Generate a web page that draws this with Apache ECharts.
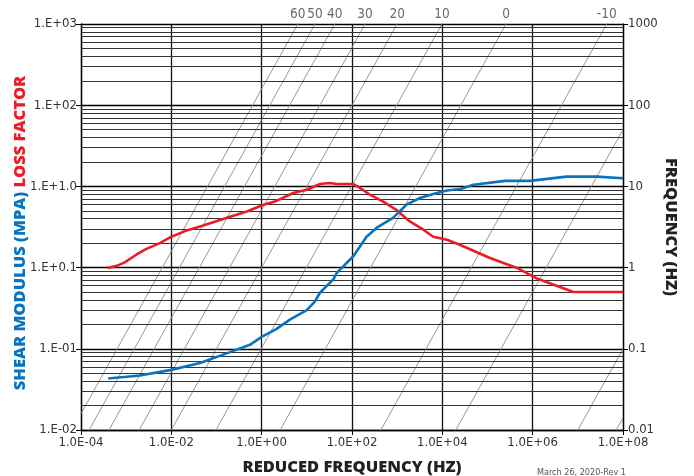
<!DOCTYPE html>
<html>
<head>
<meta charset="utf-8">
<script src="https://cdn.jsdelivr.net/npm/echarts@6/dist/echarts.min.js"></script>
<style>
html,body{margin:0;padding:0;background:#fff;}
#c{width:694px;height:476px;}
</style>
</head>
<body>
<div id="c"></div>
<script>
// ---- data ----
const xTickLabels = ['1.0E-04','1.0E-02','1.0E+00','1.0E+02','1.0E+04','1.0E+06','1.0E+08'];
const leftTickLabels = ['1.E-02','1.E-01','1.E+0.1','1.E+1.0','1.E+02','1.E+03'];
const rightTickLabels = ['0.01','0.1','1','10','100','1000'];

// isotherms: temperature (°C) and log10 shift factor
const isoTemps = [60, 50, 40, 30, 20, 10, 0, -10, -20, -30, -40];
const isoLogShift = [-2.2, -1.82, -1.38, -0.71, 0, 0.99, 2.41, 4.64, 6.3, 9.0, 9.85];
const labeledTemps = [60, 50, 40, 30, 20, 10, 0, -10];

// loss factor (red)
const lossFreq = [3.9e-4, 6.2e-4, 9.3e-4, 1.7e-3, 2.8e-3, 5.6e-3, 1.0e-2, 2.2e-2, 5.1e-2, 0.17, 0.47, 1.1, 1.95, 5.0, 10, 19.5, 32, 46, 107, 150, 250, 490, 980, 1900, 3800, 6300, 1.26e4, 2.5e4, 1.1e5, 4.5e5, 1.2e6, 8e6, 1e8];
const lossValue = [0.99, 1.05, 1.16, 1.45, 1.7, 2.0, 2.4, 2.87, 3.3, 4.1, 4.9, 5.95, 6.5, 8.3, 9.1, 10.7, 11.0, 10.7, 10.7, 9.6, 7.9, 6.5, 5.1, 3.7, 2.93, 2.4, 2.2, 1.9, 1.32, 0.99, 0.74, 0.50, 0.50];

// shear modulus (blue)
const modFreq = [4.0e-4, 2.0e-3, 1.0e-2, 4.3e-2, 0.2, 0.55, 1.02, 2.1, 4.3, 10, 15, 19.5, 39, 46, 107, 210, 355, 810, 1600, 3200, 6300, 1.26e4, 2.5e4, 4.9e4, 2.45e5, 8.7e5, 5.6e6, 2.6e7, 1e8];
const modValue = [0.043, 0.047, 0.055, 0.067, 0.091, 0.112, 0.141, 0.175, 0.23, 0.30, 0.38, 0.49, 0.72, 0.86, 1.38, 2.4, 3.1, 4.1, 5.95, 7.2, 8.05, 8.9, 9.3, 10.5, 11.7, 11.7, 13.2, 13.2, 12.6];

// minor horizontal grid multipliers
const minorMult = [2, 3, 4, 5, 6, 7, 8, 9];
const decades = [0.01, 0.1, 1, 10, 100];

const tickFont = "'Liberation Sans Narrow','DejaVu Sans Condensed','Roboto',sans-serif";
const titleFont = "'Open Sans','Lato',sans-serif";

const minorLines = [];
decades.forEach(d => minorMult.forEach(m => minorLines.push({ yAxis: +(d * m).toPrecision(3) })));

const series = [];

// minor grid lines
series.push({
  type: 'line', data: [], yAxisIndex: 0, silent: true,
  markLine: {
    silent: true, symbol: 'none', label: { show: false },
    lineStyle: { color: '#333', width: 1, type: 'solid' },
    animation: false,
    data: minorLines
  }
});

// isotherm lines
isoTemps.forEach((t, i) => {
  const aT = Math.pow(10, isoLogShift[i]);
  series.push({
    type: 'line', name: 'iso' + t, silent: true, clip: true,
    symbol: 'none', z: 3,
    lineStyle: { color: '#8c8c8c', width: 0.9 },
    data: [[1e-4, 1e-4 / aT], [1e8, 1e8 / aT]]
  });
});

// isotherm labels at top
series.push({
  type: 'scatter', clip: false, silent: true, symbolSize: 1,
  itemStyle: { color: 'transparent' },
  label: {
    show: true, position: 'top', distance: 2,
    fontFamily: tickFont, fontSize: 13.5, color: '#444',
    formatter: p => String(p.value[2])
  },
  data: labeledTemps.map(t => {
    const i = isoTemps.indexOf(t);
    return [Math.pow(10, 3 + isoLogShift[i]), 1000, t];
  })
});

series.push({
  type: 'line', name: 'Loss factor', symbol: 'none', z: 5,
  lineStyle: { color: '#ec1c24', width: 2.6 },
  data: lossFreq.map((f, i) => [f, lossValue[i]])
});
series.push({
  type: 'line', name: 'Shear modulus', symbol: 'none', z: 5,
  lineStyle: { color: '#0a73c0', width: 2.6 },
  data: modFreq.map((f, i) => [f, modValue[i]])
});

const chart = echarts.init(document.getElementById('c'), null, { renderer: 'canvas' });
chart.setOption({
  animation: false,
  backgroundColor: '#fff',
  title: {
    text: 'March 26, 2020-Rev 1',
    left: 532, top: 463,
    textStyle: { fontFamily: tickFont, fontSize: 9, fontWeight: 'normal', color: '#555' }
  },
  grid: { left: 81, right: 71, top: 24, bottom: 46, containLabel: false, outerBoundsMode: 'none' },
  xAxis: {
    type: 'log', logBase: 10, min: 1e-4, max: 1e8, interval: 2,
    name: 'REDUCED FREQUENCY (HZ)', nameLocation: 'middle', nameGap: 29, nameMoveOverlap: false,
    nameTextStyle: { fontFamily: titleFont, fontWeight: 800, fontSize: 16.5, color: '#222' },
    axisLine: { show: true, lineStyle: { color: '#000', width: 1.3 } },
    axisTick: { show: true, length: 5, lineStyle: { color: '#000' } },
    axisLabel: {
      fontFamily: tickFont, fontSize: 13, color: '#333', margin: 6,
      formatter: v => xTickLabels[Math.round((Math.log10(v) + 4) / 2)]
    },
    splitLine: { show: true, lineStyle: { color: '#111', width: 1.3 } },
    minorTick: { show: false }, minorSplitLine: { show: false }
  },
  yAxis: [{
    type: 'log', logBase: 10, min: 0.01, max: 1000, interval: 1,
    name: '{b|SHEAR MODULUS (MPA)} {r|LOSS FACTOR}',
    nameLocation: 'middle', nameRotate: 90, nameGap: 52, nameMoveOverlap: false,
    nameTextStyle: {
      fontFamily: titleFont, fontWeight: 800, fontSize: 16.5,
      rich: {
        b: { fontFamily: titleFont, fontWeight: 800, fontSize: 16.5, color: '#0a73c0' },
        r: { fontFamily: titleFont, fontWeight: 800, fontSize: 16.5, color: '#ec1c24', padding: [0, 12, 0, 0] }
      }
    },
    axisLine: { show: true, lineStyle: { color: '#000', width: 1.3 } },
    axisTick: { show: true, length: 5, lineStyle: { color: '#000' } },
    axisLabel: {
      fontFamily: tickFont, fontSize: 13, color: '#333', margin: 4,
      formatter: v => leftTickLabels[Math.round(Math.log10(v)) + 2]
    },
    splitLine: { show: true, lineStyle: { color: '#000', width: 1.3 } },
    minorTick: { show: false }, minorSplitLine: { show: false }
  }, {
    type: 'log', logBase: 10, min: 0.01, max: 1000, interval: 1, position: 'right',
    name: 'FREQUENCY (HZ)', nameLocation: 'middle', nameRotate: -90, nameGap: 39, nameMoveOverlap: false,
    nameTextStyle: { fontFamily: titleFont, fontWeight: 800, fontSize: 16.5, color: '#222' },
    axisLine: { show: true, lineStyle: { color: '#000', width: 1.3 } },
    axisTick: { show: true, length: 5, lineStyle: { color: '#000' } },
    axisLabel: {
      fontFamily: tickFont, fontSize: 13, color: '#333', margin: 5,
      formatter: v => rightTickLabels[Math.round(Math.log10(v)) + 2]
    },
    splitLine: { show: false },
    minorTick: { show: false }, minorSplitLine: { show: false }
  }],
  series: series
});
</script>
</body>
</html>
